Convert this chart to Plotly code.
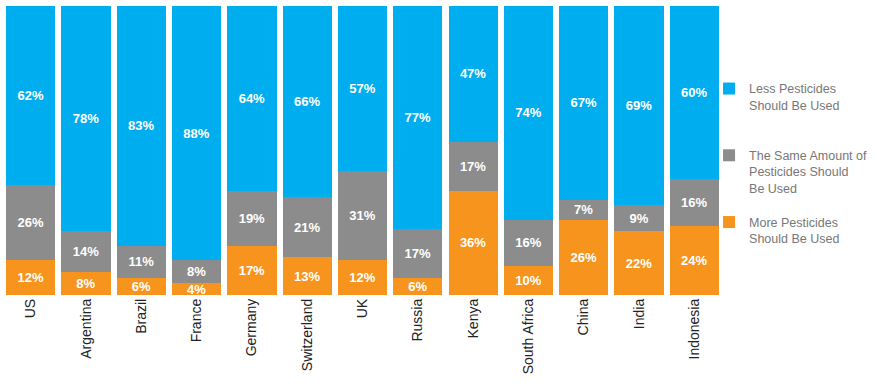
import plotly.graph_objects as go

countries = ["US", "Argentina", "Brazil", "France", "Germany", "Switzerland", "UK",
             "Russia", "Kenya", "South Africa", "China", "India", "Indonesia"]
more = [12, 8, 6, 4, 17, 13, 12, 6, 36, 10, 26, 22, 24]
same = [26, 14, 11, 8, 19, 21, 31, 17, 17, 16, 7, 9, 16]
less = [62, 78, 83, 88, 64, 66, 57, 77, 47, 74, 67, 69, 60]

series = [
    ("More Pesticides<br>Should Be Used", more, "#F7941D", "g3", 3),
    ("The Same Amount of<br>Pesticides Should<br>Be Used", same, "#8C8C8C", "g2", 2),
    ("Less Pesticides<br>Should Be Used<br>\u00a0", less, "#00AEEF", "g1", 1),
]

fig = go.Figure()
for name, vals, color, grp, rank in series:
    fig.add_trace(go.Bar(
        x=countries, y=vals, name=name, marker_color=color, marker_line_width=0,
        legendgroup=grp, legendrank=rank,
        text=[f"{v}%" for v in vals], textposition="inside", insidetextanchor="middle",
        textfont=dict(color="white", size=13, family="Liberation Sans"),
        texttemplate="<b>%{text}</b>", constraintext="none",
    ))

fig.update_layout(
    barmode="stack", bargap=0.11,
    width=877, height=389,
    margin=dict(l=3, r=155, t=6, b=94, autoexpand=False),
    plot_bgcolor="white", paper_bgcolor="white",
    font=dict(family="Liberation Sans", color="#222"),
    uniformtext=dict(minsize=13, mode="show"),
    legend=dict(x=0.982, y=0.765, xanchor="left", yanchor="top",
                traceorder="grouped", tracegroupgap=15, valign="top",
                bgcolor="rgba(0,0,0,0)",
                font=dict(size=12.5, color="#777"), itemwidth=30),
    showlegend=True,
)
fig.update_xaxes(tickangle=-90, tickfont=dict(size=14, color="#222"), ticks="", showline=False)
fig.update_yaxes(visible=False, range=[0, 100])

fig.write_html("out.html", post_script="document.body.style.margin='0';",
               config={"displayModeBar": False})
